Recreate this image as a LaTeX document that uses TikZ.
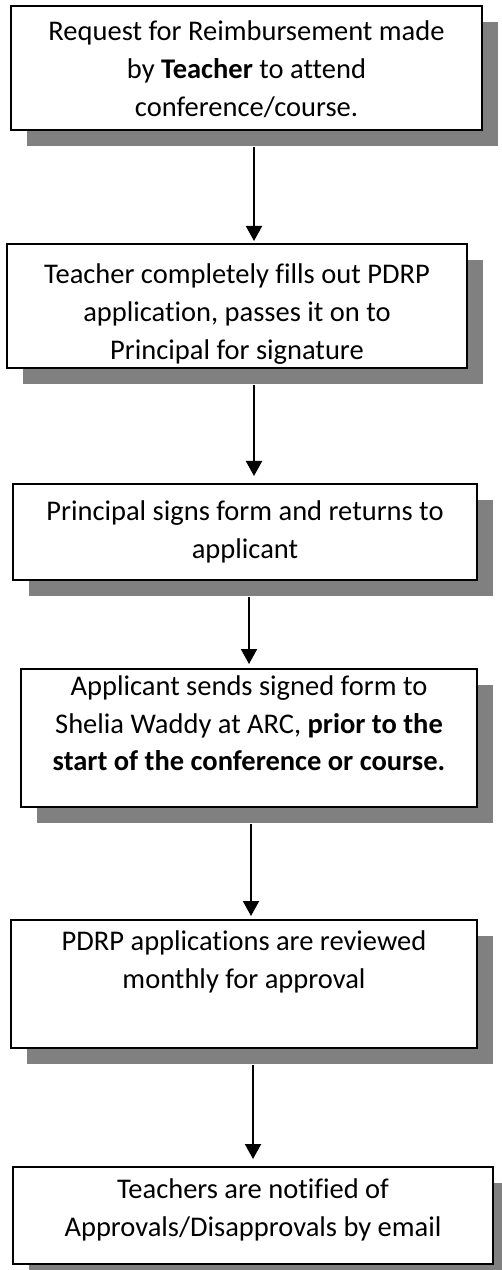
\documentclass[tikz,border=0pt]{standalone}
\usepackage{fontspec}
\setmainfont{Carlito}[Ligatures=NoCommon]
\usetikzlibrary{arrows.meta,shadows}
\definecolor{shadowgray}{RGB}{128,128,128}
\begin{document}
\begin{tikzpicture}[x=0.4pt,y=-0.4pt,
  box/.style={draw=black,line width=0.8pt,fill=white,rectangle,inner sep=0pt,
    drop shadow={shadow xshift=6.4pt,shadow yshift=-6.4pt,fill=shadowgray,opacity=1}},
  txt/.style={align=center,inner sep=0pt,anchor=north,
    font=\fontsize{11.4}{15.1}\selectfont},
  arr/.style={line width=0.8pt,-{Triangle[width=6.4pt,length=6pt]}}]
\useasboundingbox (0,0) rectangle (501,1270);

% process boxes
\node[box,minimum width=188.4pt,minimum height=49.6pt] (b1) at (246.5,68) {};
\node[box,minimum width=184pt,minimum height=49.6pt] (b2) at (237,306) {};
\node[box,minimum width=185.6pt,minimum height=38.4pt] (b3) at (245,532) {};
\node[box,minimum width=182.4pt,minimum height=55.2pt] (b4) at (249,738) {};
\node[box,minimum width=186.4pt,minimum height=51.2pt] (b5) at (244,984) {};
\node[box,minimum width=192pt,minimum height=38.8pt] (b6) at (253,1215.5) {};

% box texts
\node[txt] (t1) at ([yshift=-6.2pt]b1.north) {Request for Reimbursement made\\ by \textbf{Teacher} to attend\\ conference/course.};
\node[txt] (t2) at ([yshift=-8.2pt]b2.north) {Teacher completely fills out PDRP\\ application, passes it on to\\ Principal for signature};
\node[txt] (t3) at ([yshift=-6.8pt]b3.north) {Principal signs form and returns to\\ applicant};
\node[txt] (t4) at ([yshift=-2.8pt]b4.north) {Applicant sends signed form to\\ Shelia Waddy at ARC, \textbf{prior to the}\\ \textbf{start of the conference or course.}};
\node[txt] (t5) at ([yshift=-4.6pt]b5.north) {PDRP applications are reviewed\\ monthly for approval};
\node[txt] (t6) at ([yshift=-5pt]b6.north) {Teachers are notified of\\ Approvals/Disapprovals by email};

% arrow columns
\coordinate (a1) at (254,0);
\coordinate (a2) at (254,0);
\coordinate (a3) at (249,0);
\coordinate (a4) at (251,0);
\coordinate (a5) at (253,0);

\draw[arr,shorten >=0.8pt] ([yshift=-6.4pt]b1.south -| a1) -- (b2.north -| a1);
\draw[arr,shorten >=2.8pt] ([yshift=-6.4pt]b2.south -| a2) -- (b3.north -| a2);
\draw[arr,shorten >=1.6pt] ([yshift=-6.4pt]b3.south -| a3) -- (b4.north -| a3);
\draw[arr,shorten >=1.2pt] ([yshift=-6.4pt]b4.south -| a4) -- (b5.north -| a4);
\draw[arr,shorten >=2.8pt] ([yshift=-6.4pt]b5.south -| a5) -- (b6.north -| a5);
\end{tikzpicture}
\end{document}
